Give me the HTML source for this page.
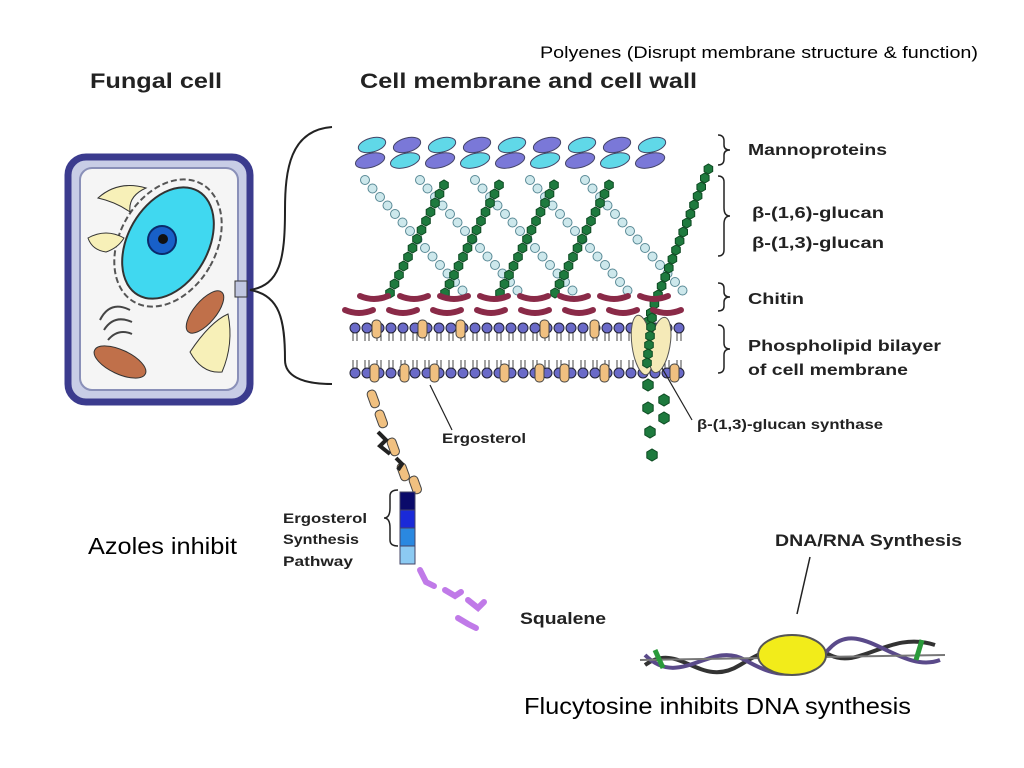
<!DOCTYPE html>
<html><head><meta charset="utf-8"><style>
html,body{margin:0;padding:0;background:#fff}
svg{display:block}
.b{font-family:"Liberation Sans",Arial,sans-serif;font-weight:bold;fill:#222}
.n{font-family:"Liberation Sans",Arial,sans-serif;fill:#000}
</style></head><body>
<svg id="s" width="1024" height="768" viewBox="0 0 1024 768" xmlns="http://www.w3.org/2000/svg">
<text class="n" x="540" y="58" font-size="17" textLength="438" lengthAdjust="spacingAndGlyphs">Polyenes (Disrupt membrane structure &amp; function)</text>
<text class="b" x="90" y="88" font-size="21" textLength="132" lengthAdjust="spacingAndGlyphs">Fungal cell</text>
<text class="b" x="360" y="88" font-size="21" textLength="337" lengthAdjust="spacingAndGlyphs">Cell membrane and cell wall</text>
<!-- cell -->
<rect x="68" y="157" width="182" height="245" rx="18" fill="#c8cde6" stroke="#3b3b8e" stroke-width="7"/>
<rect x="80" y="168" width="158" height="222" rx="12" fill="#f5f5f5" stroke="#8a90b8" stroke-width="2"/>
<ellipse cx="168" cy="243" rx="40" ry="60" transform="rotate(30 168 243)" fill="#40d8f0" stroke="#333" stroke-width="2"/>
<ellipse cx="168" cy="243" rx="48" ry="68" transform="rotate(30 168 243)" fill="none" stroke="#555" stroke-width="2" stroke-dasharray="6 3"/>
<circle cx="162" cy="240" r="14" fill="#1860c8" stroke="#0a2a6a" stroke-width="2"/>
<circle cx="163" cy="239" r="5" fill="#111"/>
<path d="M98 198 q20-18 48-10 q-18 8-16 24 q-14-10-32-14z" fill="#f7f0b8" stroke="#333"/>
<path d="M88 238 q18-10 36 0 q-6 10-18 14 q-14-2-18-14z" fill="#f7f0b8" stroke="#333"/>
<path d="M190 352 q20-30 38-38 q6 30-6 58 q-20 2-32-20z" fill="#f7f0b8" stroke="#333"/>
<ellipse cx="120" cy="362" rx="28" ry="12" transform="rotate(25 120 362)" fill="#c0704a" stroke="#333"/>
<ellipse cx="205" cy="312" rx="26" ry="11" transform="rotate(-50 205 312)" fill="#c0704a" stroke="#333"/>
<path d="M100 320 q10-20 30-10 M104 330 q10-16 28-8 M108 340 q10-12 24-6" stroke="#444" fill="none" stroke-width="2"/>
<rect x="235" y="281" width="12" height="16" fill="#c0c6e0" stroke="#333"/>
<!-- big brace -->
<path d="M332 127 C290 130 285 170 285 210 C285 260 280 285 250 290 C280 295 285 320 285 360 C285 375 300 384 332 384" fill="none" stroke="#222" stroke-width="2"/>
<g id="g"></g>
<!-- right labels -->
<g stroke="#222" stroke-width="1.5" fill="none">
<path d="M718 135 q6 0 6 6 v4 q0 5 6 5 q-6 0 -6 5 v4 q0 6 -6 6"/>
<path d="M718 176 q6 0 6 6 v26 q0 8 6 8 q-6 0-6 8 v26 q0 6-6 6"/>
<path d="M718 283 q6 0 6 5 v4 q0 5 6 5 q-6 0-6 5 v4 q0 5-6 5"/>
<path d="M718 325 q6 0 6 6 v12 q0 6 6 6 q-6 0-6 6 v12 q0 6-6 6"/>
<path d="M398 490 q-8 0-8 6 v12 q0 10-6 10 q6 0 6 10 v12 q0 6 8 6"/>
</g>
<text class="b" x="748" y="155" font-size="16" textLength="139" lengthAdjust="spacingAndGlyphs">Mannoproteins</text>
<text class="b" x="752" y="218" font-size="16" textLength="132" lengthAdjust="spacingAndGlyphs">β-(1,6)-glucan</text>
<text class="b" x="752" y="248" font-size="16" textLength="132" lengthAdjust="spacingAndGlyphs">β-(1,3)-glucan</text>
<text class="b" x="748" y="304" font-size="16" textLength="56" lengthAdjust="spacingAndGlyphs">Chitin</text>
<text class="b" x="748" y="351" font-size="16" textLength="193" lengthAdjust="spacingAndGlyphs">Phospholipid bilayer</text>
<text class="b" x="748" y="375" font-size="16" textLength="160" lengthAdjust="spacingAndGlyphs">of cell membrane</text>
<text class="b" x="442" y="443" font-size="14" textLength="84" lengthAdjust="spacingAndGlyphs">Ergosterol</text>
<text class="b" x="697" y="429" font-size="14" textLength="186" lengthAdjust="spacingAndGlyphs">β-(1,3)-glucan synthase</text>
<line x1="430" y1="385" x2="452" y2="430" stroke="#222" stroke-width="1.2"/>
<line x1="662" y1="368" x2="692" y2="420" stroke="#222" stroke-width="1.2"/>
<!-- pathway -->
<rect x="400" y="492" width="15" height="18" fill="#0a0a6a" stroke="#446"/>
<rect x="400" y="510" width="15" height="18" fill="#1a2ad8" stroke="#446"/>
<rect x="400" y="528" width="15" height="18" fill="#2a88e0" stroke="#446"/>
<rect x="400" y="546" width="15" height="18" fill="#8ccaf2" stroke="#446"/>
<text class="b" x="283" y="523" font-size="14" textLength="84" lengthAdjust="spacingAndGlyphs">Ergosterol</text>
<text class="b" x="283" y="544" font-size="14" textLength="76" lengthAdjust="spacingAndGlyphs">Synthesis</text>
<text class="b" x="283" y="566" font-size="14" textLength="70" lengthAdjust="spacingAndGlyphs">Pathway</text>
<g stroke="#c07ae8" stroke-width="6" stroke-linecap="round" fill="none">
<path d="M420 570 l6 12 l8 4"/><path d="M445 590 l10 6 l6-4"/><path d="M468 600 l10 8 l6-6"/><path d="M458 618 l10 6 l8 4"/>
</g>
<text class="b" x="520" y="624" font-size="17" textLength="86" lengthAdjust="spacingAndGlyphs">Squalene</text>
<text class="n" x="88" y="554" font-size="23" textLength="149" lengthAdjust="spacingAndGlyphs">Azoles inhibit</text>
<text class="b" x="775" y="546" font-size="17" textLength="187" lengthAdjust="spacingAndGlyphs">DNA/RNA Synthesis</text>
<line x1="810" y1="557" x2="797" y2="614" stroke="#222" stroke-width="1.5"/>
<!-- DNA -->
<g fill="none" stroke-width="4">
<path d="M645 665 C680 640 700 690 740 665 S800 640 830 655 S890 630 935 645" stroke="#333"/>
<path d="M645 655 C680 690 710 640 745 660 S800 680 830 648 S900 675 940 660" stroke="#5a4a8a"/>
<path d="M640 660 L945 655" stroke="#777" stroke-width="2"/>
</g>
<ellipse cx="792" cy="655" rx="34" ry="20" fill="#f2ec1a" stroke="#555" stroke-width="2"/>
<path d="M655 650 l8 18 M922 640 l-6 20" stroke="#2a9a3a" stroke-width="5"/>
<text class="n" x="524" y="714" font-size="23" textLength="387" lengthAdjust="spacingAndGlyphs">Flucytosine inhibits DNA synthesis</text>
</svg>
<script>
var g=document.getElementById('g'),h='';
function hex(x,y,r){var p=[];for(var i=0;i<6;i++){var a=Math.PI/3*i+Math.PI/6;p.push((x+r*Math.cos(a)).toFixed(1)+','+(y+r*Math.sin(a)).toFixed(1));}return '<polygon points="'+p.join(' ')+'" fill="#1e7a3e" stroke="#0d4a22"/>';}
for(var k=0;k<5;k++){
 var x0=365+k*55;
 for(var i=0;i<14;i++){h+='<circle cx="'+(x0+i*7.5)+'" cy="'+(180+i*8.5)+'" r="4.5" fill="#cde8ec" stroke="#5a8a96"/>';}
}
for(var k=0;k<4;k++){
 var x0=390+k*55;
 for(var i=0;i<13;i++){h+=hex(x0+i*4.5,293-i*9,5);}
}
for(var i=0;i<20;i++){h+=hex(640+i*3.6,340-i*9,5);}
[[648,385],[664,400],[648,408],[664,418],[650,432],[652,455]].forEach(function(p){h+=hex(p[0],p[1],6);});
for(var i=0;i<8;i++){h+='<path d="M'+(360+i*40)+' 296 q14 6 28 0" stroke="#8a2a48" stroke-width="6" fill="none" stroke-linecap="round"/>';
h+='<path d="M'+(345+i*44)+' 310 q14 6 28 0" stroke="#8a2a48" stroke-width="6" fill="none" stroke-linecap="round"/>';}
for(var i=0;i<9;i++){var x=372+i*35,c1=i%2?'#7a78d8':'#60d8e8',c2=i%2?'#60d8e8':'#7a78d8';
h+='<ellipse cx="'+x+'" cy="145" rx="14" ry="7" transform="rotate(-15 '+x+' 145)" fill="'+c1+'" stroke="#446"/>';
h+='<ellipse cx="'+(x-2)+'" cy="160" rx="15" ry="7" transform="rotate(-15 '+x+' 160)" fill="'+c2+'" stroke="#446"/>';}
for(var i=0;i<28;i++){var x=355+i*12;
h+='<circle cx="'+x+'" cy="328" r="5" fill="#6a6ac8" stroke="#223"/><path d="M'+(x-2)+' 333 v8 M'+(x+2)+' 333 v8" stroke="#444"/>';
h+='<circle cx="'+x+'" cy="373" r="5" fill="#6a6ac8" stroke="#223"/><path d="M'+(x-2)+' 360 v8 M'+(x+2)+' 360 v8" stroke="#444"/>';}
[372,418,456,540,590].forEach(function(x){h+='<rect x="'+x+'" y="320" width="9" height="18" rx="4" fill="#f0c080" stroke="#444"/>';});
[370,400,430,500,535,560,600,670].forEach(function(x){h+='<rect x="'+x+'" y="364" width="9" height="18" rx="4" fill="#f0c080" stroke="#444"/>';});
[[366,392],[374,412],[386,440],[396,465],[408,478]].forEach(function(p){h+='<rect x="'+p[0]+'" y="'+p[1]+'" width="9" height="18" rx="4" fill="#f0c080" stroke="#444" transform="rotate(-20 '+p[0]+' '+p[1]+')"/>';});
h+='<path d="M378 432 l8 8 l-6 6 l10 8 M396 458 l6 6 l-4 6" stroke="#222" stroke-width="4" fill="none"/>';
h+='<ellipse cx="642" cy="345" rx="10" ry="30" transform="rotate(-8 642 345)" fill="#f5eab8" stroke="#555"/><ellipse cx="660" cy="345" rx="10" ry="28" transform="rotate(10 660 345)" fill="#f5eab8" stroke="#555"/>';
for(var i=0;i<6;i++){h+=hex(652-i*1,318+i*9,5);}
g.innerHTML=h;
</script>
</body></html>
